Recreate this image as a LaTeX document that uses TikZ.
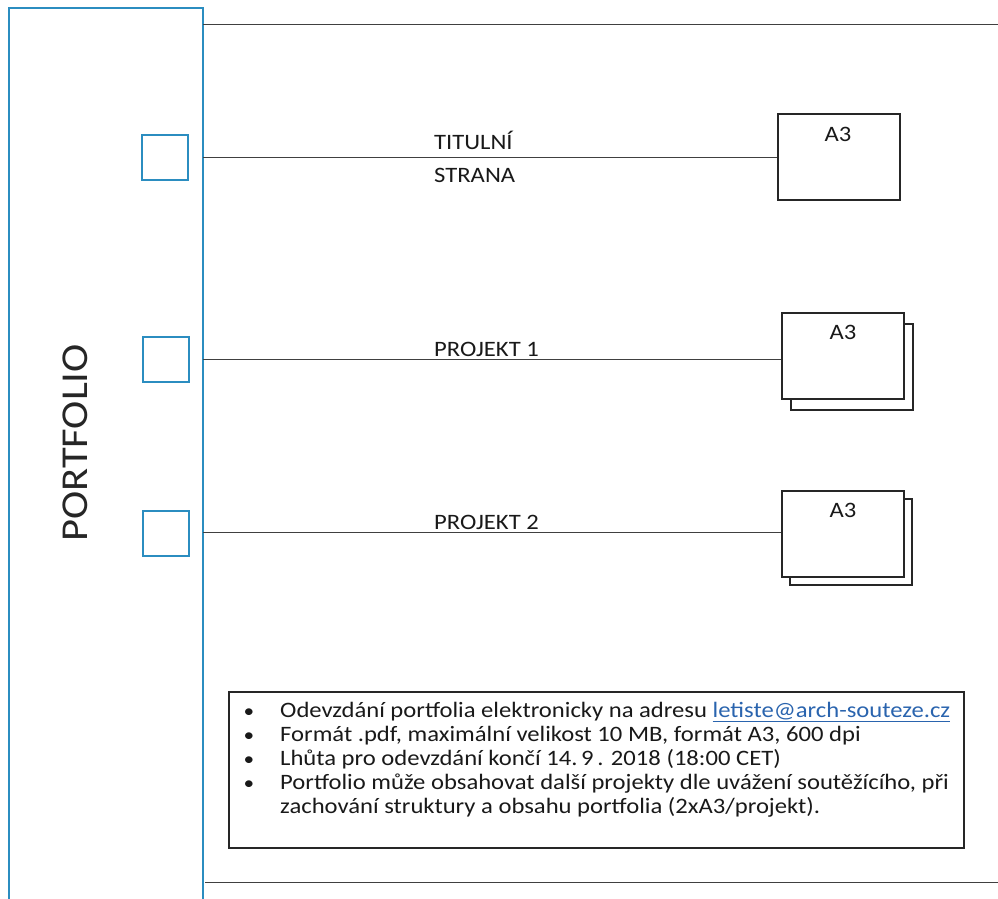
\documentclass[tikz,border=0pt]{standalone}
\usepackage{fontspec}
\setmainfont{Carlito}[FakeStretch=1.12]
\definecolor{portblue}{HTML}{2B8DC0}
\definecolor{linkblue}{HTML}{2A64AE}
\begin{document}
\begin{tikzpicture}[x=1pt,y=-1pt,
  blueframe/.style={draw=portblue, line width=2pt},
  bluesq/.style={draw=portblue, line width=2pt, minimum width=46, minimum height=45, inner sep=0},
  sheet/.style={draw=black!85, line width=2pt, fill=white, minimum width=122, minimum height=86, inner sep=0},
  rulel/.style={draw=black!75, line width=1pt},
  lbl/.style={font=\fontsize{22}{24}\selectfont, anchor=base west, inner sep=0, text=black!90},
  a3/.style={font=\fontsize{22}{26}\selectfont, anchor=base, inner sep=0, text=black!90},
  bl/.style={font=\fontsize{22}{24}\selectfont, anchor=base west, inner sep=0, text=black!90}]
\useasboundingbox (0,0) rectangle (998,899);
% portfolio frame
\draw[blueframe] (9,905) -- (9,8) -- (203,8) -- (203,905);
\node[font=\fontsize{38}{40}\selectfont, rotate=90, inner sep=0, text=black!85] (port) at (75,443) {PORTFOLIO};
% top and bottom rules
\coordinate (t0) at (203,25); \coordinate (t1) at (998,25);
\coordinate (b0) at (205,882); \coordinate (b1) at (998,882);
\draw[rulel] (t0) -- (t1);
\draw[rulel] (b0) -- (b1);
% blue squares
\node[bluesq] (sq1) at (165,157.5) {};
\node[bluesq] (sq2) at (166,359.5) {};
\node[bluesq] (sq3) at (166,533) {};
% sheets
\node[sheet] (s1) at (839,157) {};
\node[sheet] (s2b) at (852,366.5) {};
\node[sheet] (s2) at (843,356) {};
\node[sheet] (s3b) at (851,541.5) {};
\node[sheet] (s3) at (843,534) {};
\node[a3] (a1) at (838,141) {A3};
\node[a3] (a2) at (843,339) {A3};
\node[a3] (a3t) at (843,517) {A3};
% connector lines
\coordinate (c1) at (203,157);
\coordinate (c2) at (203,359);
\coordinate (c3) at (203,532);
\draw[rulel] (c1) -- (c1 -| s1.west);
\draw[rulel] (c2) -- (c2 -| s2.west);
\draw[rulel] (c3) -- (c3 -| s3.west);
% labels
\node[lbl] (l1) at (434,149) {TITULNÍ};
\node[lbl] (l1b) at (434,182) {STRANA};
\node[lbl] (l2) at (434,356) {PROJEKT 1};
\node[lbl] (l3) at (434,529) {PROJEKT 2};
% info box
\node[draw=black!85, line width=1.5pt, minimum width=735, minimum height=156, inner sep=0] (box) at (596.5,770) {};
\foreach \yy/\nm in {717/b1,741/b2,765/b3,789/b4}{
  \node[bl, anchor=base] (\nm) at (249,\yy) {\fontsize{19}{24}\selectfont •};
}
\node[bl] (t1x) at (280,717) {Odevzdání portfolia elektronicky na adresu \textcolor{linkblue}{\underline{letiste@arch-souteze.cz}}};
\node[bl] (t2x) at (280,741) {Formát .pdf, maximální velikost 10 MB, formát A3, 600 dpi};
\node[bl] (t3x) at (280,765) {Lhůta pro odevzdání končí 14.\,9\,. 2018 (18:00 CET)};
\node[bl] (t4x) at (280,789) {Portfolio může obsahovat další projekty dle uvážení soutěžícího, při};
\node[bl] (t5x) at (280,813) {zachování struktury a obsahu portfolia (2xA3/projekt).};
\end{tikzpicture}
\end{document}
